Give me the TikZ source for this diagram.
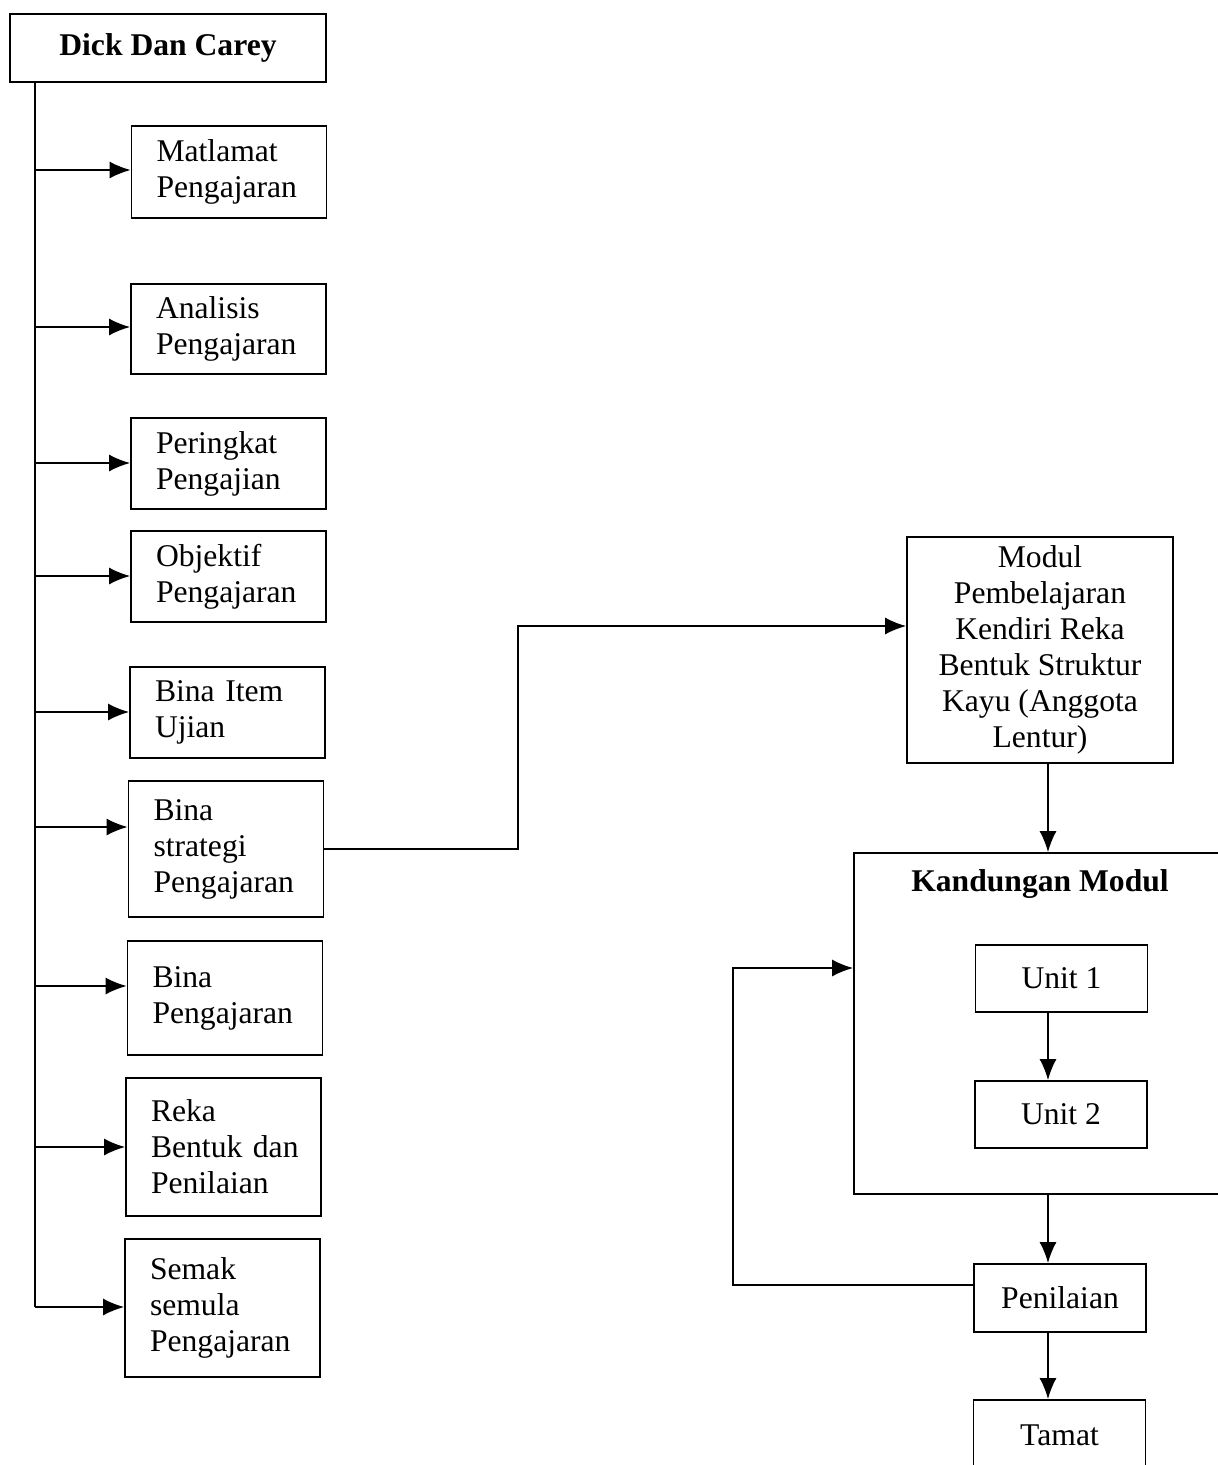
\documentclass[tikz,border=0pt]{standalone}
\usepackage{fontspec}
\setmainfont{Liberation Serif}
\usetikzlibrary{shapes,arrows.meta,positioning,calc}

\begin{document}
\begin{tikzpicture}[
    x=0.02cm, y=-0.02cm,
    box/.style={rectangle, draw, line width=1pt, inner sep=0pt, font=\fontsize{18}{20.5}\selectfont},
    stepbox/.style={box, minimum width=3.9cm, text width=2.9cm, inner xsep=0.5cm, align=left},
    unitbox/.style={box, minimum width=3.44cm, minimum height=1.34cm, align=center},
    line/.style={line width=1pt},
    arrow/.style={line, -{Latex[length=0.42cm, width=0.34cm]}}
]
\useasboundingbox (0,0) rectangle (1218,1465);

% Left column
\node[box, minimum width=6.32cm, minimum height=1.36cm, font=\fontsize{18}{20.5}\selectfont\bfseries] (dick) at (168,48) {Dick Dan Carey};

\node[stepbox, minimum height=1.84cm] (s1) at (229,172) {Matlamat\\Pengajaran};
\node[stepbox, minimum height=1.80cm] (s2) at (228.5,329) {Analisis\\Pengajaran};
\node[stepbox, minimum height=1.82cm] (s3) at (228.5,463.5) {Peringkat\\Pengajian};
\node[stepbox, minimum height=1.82cm] (s4) at (228.5,576.5) {Objektif\\Pengajaran};
\node[stepbox, minimum height=1.82cm] (s5) at (227.5,712.5) {Bina~Item\\Ujian};
\node[stepbox, minimum height=2.72cm] (s6) at (226,849) {Bina\\strategi\\Pengajaran};
\node[stepbox, minimum height=2.28cm] (s7) at (225,998) {Bina\\Pengajaran};
\node[stepbox, minimum height=2.76cm] (s8) at (223.5,1147) {Reka\\Bentuk~dan\\Penilaian};
\node[stepbox, minimum height=2.76cm] (s9) at (222.5,1308) {Semak\\semula\\Pengajaran};

% Trunk and branches
\foreach \n/\y in {1/170, 2/327, 3/463, 4/576, 5/712, 6/827, 7/986, 8/1147, 9/1307} {
    \coordinate (t\n) at (35,\y);
    \draw[arrow] (t\n) -- (t\n -| s\n.west);
}
\draw[line] (dick.south -| t1) -- (t9);

% Right column
\node[box, minimum width=5.32cm, minimum height=4.52cm, align=center] (modul) at (1040,650)
    {Modul\\Pembelajaran\\Kendiri Reka\\Bentuk Struktur\\Kayu (Anggota\\Lentur)};
\node[box, minimum width=7.32cm, minimum height=6.82cm] (kand) at (1037,1023.5) {};
\node[font=\fontsize{18}{20.5}\selectfont\bfseries] (kandtitle) at (1040,884) {Kandungan Modul};
\node[unitbox] (u1) at (1061.5,978.5) {Unit 1};
\node[unitbox] (u2) at (1061,1114.5) {Unit 2};
\node[unitbox, minimum height=1.36cm] (pen) at (1060,1298) {Penilaian};
\node[unitbox, minimum height=1.40cm] (tamat) at (1059.5,1435) {Tamat};

% Connectors
\coordinate (bend) at (518,626);
\draw[arrow] (s6.east) -| (bend) -- (bend -| modul.west);

\coordinate (vx) at (1048,0);
\draw[arrow] (modul.south -| vx) -- (kand.north -| vx);
\draw[arrow] (u1.south -| vx) -- (u2.north -| vx);
\draw[arrow] (kand.south -| vx) -- (pen.north -| vx);
\draw[arrow] (pen.south -| vx) -- (tamat.north -| vx);

\coordinate (fb) at (733,968);
\coordinate (pw) at (974,1285);
\draw[arrow] (pw) -| (fb) -- (fb -| kand.west);

\end{tikzpicture}
\end{document}
